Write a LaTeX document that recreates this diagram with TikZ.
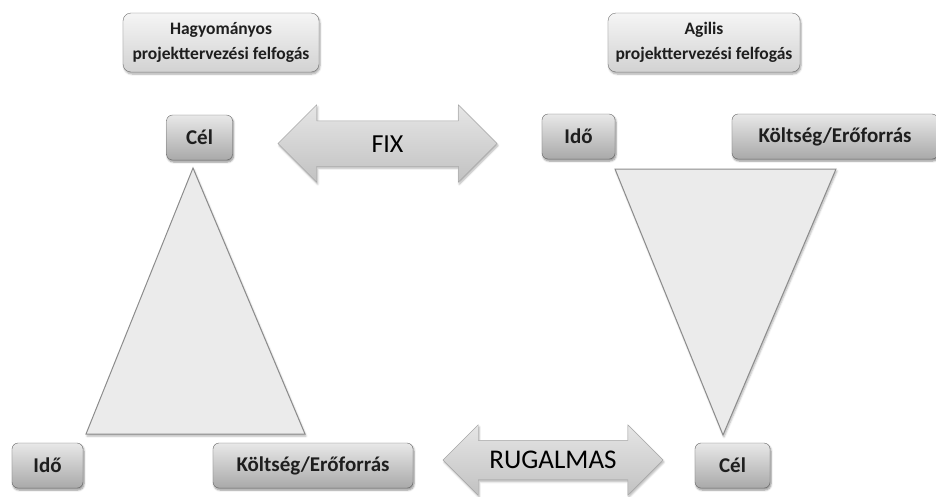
\documentclass[tikz,border=0pt]{standalone}
\usepackage{fontspec}
\setmainfont{Carlito}
\usepackage{tikz}
\usetikzlibrary{shapes.arrows,shadows.blur}

\definecolor{boxtop}{HTML}{E8E8E8}
\definecolor{boxbot}{HTML}{A9A9A9}
\definecolor{headtop}{HTML}{F5F5F5}
\definecolor{headbot}{HTML}{D2D2D2}
\definecolor{trifill}{HTML}{EBEBEB}
\definecolor{txt}{HTML}{1E1E1E}

\begin{document}
\begin{tikzpicture}[x=1pt,y=1pt,
  every node/.style={text=txt,inner sep=0pt},
  labelbox/.style={draw=black!60,rounded corners=6pt,top color=boxtop,bottom color=boxbot,
    font=\bfseries\fontsize{21}{25}\selectfont,minimum height=45pt,
    blur shadow={shadow xshift=1pt,shadow yshift=-2pt,shadow blur steps=6,shadow opacity=45}},
  headbox/.style={draw=black!55,rounded corners=8pt,top color=headtop,bottom color=headbot,
    font=\bfseries\fontsize{17.5}{25}\selectfont,align=center,minimum width=196pt,minimum height=59pt,
    blur shadow={shadow xshift=1pt,shadow yshift=-2pt,shadow blur steps=6,shadow opacity=35}},
  flowarrow/.style={shape=double arrow,draw=black!35,top color=black!10,bottom color=black!24,
    double arrow tip angle=90,text=black,text height=21pt,text depth=4pt,
    blur shadow={shadow xshift=1pt,shadow yshift=-2pt,shadow blur steps=6,shadow opacity=30}},
  triangle/.style={draw=black!45,fill=trifill,line width=1pt,
    blur shadow={shadow xshift=1pt,shadow yshift=-2pt,shadow blur steps=5,shadow opacity=30}}]
\useasboundingbox (0,-496) rectangle (936,0);

% felfogasok
\node[headbox] (trad) at (221,-42.5) {Hagyományos\\projekttervezési felfogás};
\node[headbox,minimum width=192pt] (agil) at (704,-42.5) {Agilis\\projekttervezési felfogás};

% hagyomanyos haromszog
\draw[triangle] (193,-168) -- (305,-434) -- (86,-434) -- cycle;
\node[labelbox,minimum width=66pt] (celL) at (199.5,-137.5) {Cél};
\node[labelbox,minimum width=71pt] (idoL) at (47.5,-465.5) {Idő};
\node[labelbox,minimum width=200pt] (koltL) at (313,-465.5) {Költség/Erőforrás};

% agilis haromszog
\draw[triangle] (615,-169) -- (836,-169) -- (723,-435) -- cycle;
\node[labelbox,minimum width=73pt] (idoR) at (578.5,-136.5) {Idő};
\node[labelbox,minimum width=206pt] (koltR) at (835,-136.5) {Költség/Erőforrás};
\node[labelbox,minimum width=75pt] (celR) at (732.5,-465.5) {Cél};

% nyilak (minimum height = hossz, a szar vastagsaga = szoveg + inner ysep)
\node[flowarrow,minimum height=219pt,inner ysep=10pt,double arrow head extend=16pt,
  font=\fontsize{26}{30}\selectfont] (fix) at (387.5,-143.5) {FIX};
\node[flowarrow,minimum height=220pt,inner ysep=7pt,double arrow head extend=15.5pt,
  font=\fontsize{27}{30}\selectfont] (rug) at (553,-460) {RUGALMAS};
\end{tikzpicture}
\end{document}
